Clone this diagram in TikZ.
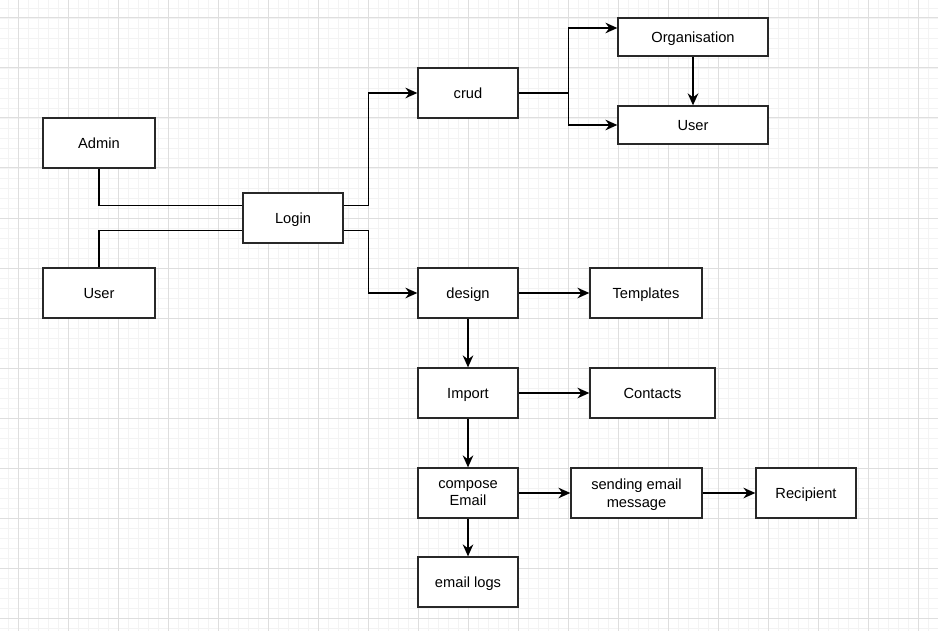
\documentclass[tikz,border=0pt]{standalone}
\usepackage{fontspec}
\setmainfont{Liberation Sans}
\usetikzlibrary{arrows.meta}
\definecolor{gridminor}{RGB}{243,243,243}
\definecolor{gridmajor}{RGB}{222,222,222}
\definecolor{edge}{RGB}{40,40,40}
\tikzset{
  box/.style={draw=edge, line width=1pt, fill=white, rectangle, inner sep=0pt,
    text depth=0pt, align=center, font=\fontsize{11}{13.3}\selectfont},
  link/.style={draw=black, line width=0.9pt},
  arr/.style={link, -{Stealth[length=9pt,width=8pt,inset=3pt]}}
}
\begin{document}
\begin{tikzpicture}[x=0.75pt,y=0.75pt,yscale=-1,xscale=1]
\useasboundingbox (0,0) rectangle (938,631);
\fill[white] (0,0) rectangle (938,631);

%Grid
\foreach \x in {8,18,...,938} \draw[gridminor, line width=0.6pt] (\x,0) -- (\x,631);
\foreach \y in {8,18,...,628} \draw[gridminor, line width=0.6pt] (0,\y) -- (938,\y);
\foreach \x in {18,68,...,938} \draw[gridmajor, line width=0.75pt] (\x,0) -- (\x,631);
\foreach \y in {18,68,...,628} \draw[gridmajor, line width=0.75pt] (0,\y) -- (938,\y);

%Shape: Rectangle [users]
\node[box, minimum width=84pt, minimum height=37.5pt] (admin) at (99,143) {Admin};
\node[box, minimum width=84pt, minimum height=37.5pt] (user) at (99,293) {User};
%Shape: Rectangle [login]
\node[box, minimum width=75pt, minimum height=37.5pt] (login) at (293,218) {Login};
%Shape: Rectangle [crud branch]
\node[box, minimum width=75pt, minimum height=37.5pt] (crud) at (468,93) {crud};
\node[box, minimum width=112.5pt, minimum height=28.5pt] (org) at (693,37) {Organisation};
\node[box, minimum width=112.5pt, minimum height=28.5pt] (orguser) at (693,125) {User};
%Shape: Rectangle [design branch]
\node[box, minimum width=75pt, minimum height=37.5pt] (design) at (468,293) {design};
\node[box, minimum width=84pt, minimum height=37.5pt] (templates) at (646,293) {Templates};
\node[box, minimum width=75pt, minimum height=37.5pt] (import) at (468,393) {Import};
\node[box, minimum width=93.75pt, minimum height=37.5pt] (contacts) at (652.5,393) {Contacts};
\node[box, minimum width=75pt, minimum height=37.5pt] (compose) at (468,493) {compose\\Email};
\node[box, minimum width=98.25pt, minimum height=37.5pt] (sending) at (636.5,493) {sending email\\message};
\node[box, minimum width=75pt, minimum height=37.5pt] (recipient) at (806,493) {Recipient};
\node[box, minimum width=75pt, minimum height=37.5pt] (logs) at (468,582) {email logs};

%Straight Lines [to login]
\draw[link] (admin.south) |- ([yshift=-9.4pt]login.west);
\draw[link] (user.north) |- ([yshift=9.4pt]login.west);

%Straight Lines [from login]
\draw[arr] ([yshift=-9.4pt]login.east) -- ++(25,0) |- (crud.west);
\draw[arr] ([yshift=9.4pt]login.east) -- ++(25,0) |- (design.west);

%Straight Lines [crud]
\draw[arr] (crud.east) -- ++(50,0) |- ([yshift=-6.75pt]org.west);
\draw[arr] (crud.east) -- ++(50,0) |- (orguser.west);
\draw[arr] (org.south) -- (orguser.north);

%Straight Lines [design]
\draw[arr] (design.east) -- (templates.west);
\draw[arr] (design.south) -- (import.north);
\draw[arr] (import.east) -- (contacts.west);
\draw[arr] (import.south) -- (compose.north);
\draw[arr] (compose.east) -- (sending.west);
\draw[arr] (sending.east) -- (recipient.west);
\draw[arr] (compose.south) -- (logs.north);

\end{tikzpicture}
\end{document}
